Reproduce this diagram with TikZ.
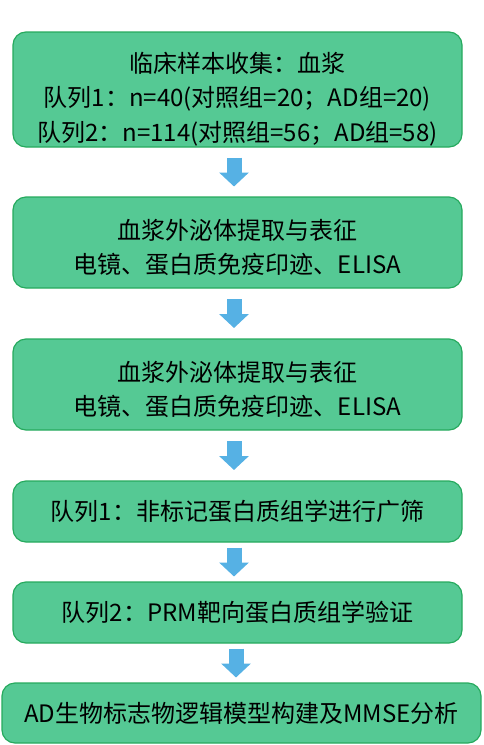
\documentclass[tikz,border=0pt]{standalone}
\usepackage{fontspec}
\setmainfont{Noto Sans CJK SC}
\usetikzlibrary{arrows.meta,calc}
\definecolor{boxfill}{RGB}{85,201,148}
\definecolor{boxline}{RGB}{38,170,94}
\definecolor{flowblue}{RGB}{86,177,228}
% taller first line, pushes a block of lines down in its box
\newcommand\firstgap[1]{\rule{0pt}{#1}}

\begin{document}
\begin{tikzpicture}[x=1pt, y=-1pt,
  font=\fontsize{24}{34.5}\selectfont,
  box/.style={draw=boxline, fill=boxfill, line width=1.2pt, rounded corners=13pt,
    align=center, inner sep=0pt, minimum width=449pt},
  flow/.style={flowblue, line width=15pt, -{Triangle[length=14pt, width=29pt]}}]
\useasboundingbox (0,0) rectangle (483,745);
% steps, top to bottom
\node[box, minimum height=115pt] (collect) at (237.5,89.5)
  {\firstgap{39pt}临床样本收集：血浆\\队列1：n=40(对照组=20；AD组=20)\\队列2：n=114(对照组=56；AD组=58)};
\node[box, minimum height=91pt] (extract1) at (237.5,242.5)
  {\firstgap{30pt}血浆外泌体提取与表征\\电镜、蛋白质免疫印迹、ELISA};
\node[box, minimum height=91pt] (extract2) at (237.5,384.5)
  {\firstgap{30pt}血浆外泌体提取与表征\\电镜、蛋白质免疫印迹、ELISA};
\node[box, minimum height=61pt] (screen) at (237.5,511.5)
  {队列1：非标记蛋白质组学进行广筛};
\node[box, minimum height=61pt] (verify) at (237.5,612.5)
  {队列2：PRM靶向蛋白质组学验证};
\node[box, minimum height=60pt, minimum width=479pt] (model) at (241.5,713)
  {AD生物标志物逻辑模型构建及MMSE分析};
% block arrows between the steps
\foreach \a/\b in {collect/extract1, extract1/extract2, extract2/screen, screen/verify, verify/model}
  \draw[flow] ($(\a.south)!0.5!(\b.north)+(-3.5,-14.5)$) -- ($(\a.south)!0.5!(\b.north)+(-3.5,14.5)$);
\end{tikzpicture}
\end{document}
